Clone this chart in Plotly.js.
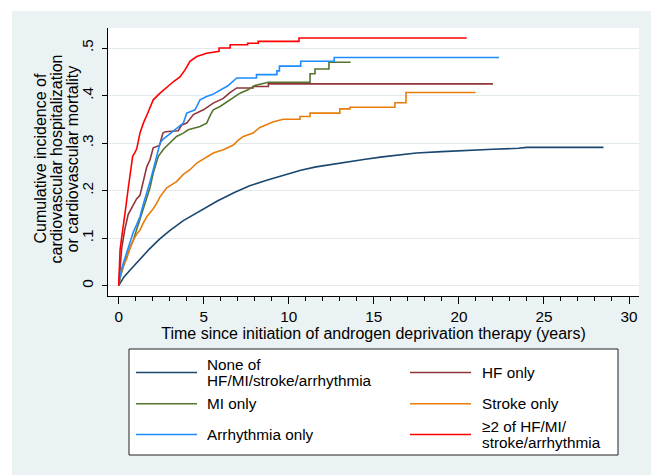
<!DOCTYPE html>
<html>
<head>
<meta charset="utf-8">
<script src="https://cdn.plot.ly/plotly-3.0.1.min.js"></script>
<style>
  html, body { margin: 0; padding: 0; background: #ffffff; }
  #chart { width: 651px; height: 475px; }
</style>
</head>
<body>
<div id="chart"></div>
<script>
// ---------------- data ----------------
// Each series is given as the vertices of its drawn (stepped) curve.
const seriesNames = [
  'None of\nHF/MI/stroke/arrhythmia',
  'HF only',
  'MI only',
  'Stroke only',
  'Arrhythmia only',
  '≥2 of HF/MI/\nstroke/arrhythmia'
];

// None of HF/MI/stroke/arrhythmia (years, cumulative incidence)
const noneT = [0, 0.3, 0.7, 1.2, 1.8, 2.4, 3.0, 3.8, 4.8, 5.8, 6.8, 7.7, 8.7, 9.7, 10.7, 11.6, 12.6, 13.6, 14.5, 15.5, 16.5, 17.5, 19.0, 20.5, 22.0, 23.5, 24.0, 28.5];
const noneV = [0, 0.018, 0.034, 0.054, 0.077, 0.098, 0.116, 0.137, 0.158, 0.178, 0.196, 0.210, 0.222, 0.233, 0.243, 0.250, 0.256, 0.261, 0.266, 0.271, 0.275, 0.279, 0.282, 0.285, 0.287, 0.289, 0.291, 0.291];

// HF only
const hfT = [0, 0.08, 0.18, 0.37, 0.56, 0.86, 1.06, 1.25, 1.35, 1.45, 1.55, 1.65, 1.84, 2.03, 2.4, 2.6, 2.75, 3.5, 3.7, 4.0, 4.39, 4.98, 5.56, 6.15, 6.5, 6.94, 7.9, 7.9, 8.8, 8.8, 22.0];
const hfV = [0, 0.045, 0.08, 0.12, 0.15, 0.17, 0.183, 0.19, 0.205, 0.215, 0.23, 0.25, 0.265, 0.29, 0.295, 0.321, 0.324, 0.326, 0.338, 0.342, 0.36, 0.370, 0.384, 0.394, 0.405, 0.416, 0.416, 0.419, 0.419, 0.4246, 0.4246];

// MI only
const miT = [0, 0.1, 0.27, 0.47, 0.65, 0.86, 1.05, 1.25, 1.45, 1.65, 1.84, 2.03, 2.2, 2.33, 2.63, 3.02, 3.4, 3.8, 4.09, 4.78, 5.17, 5.4, 5.56, 5.96, 6.54, 6.86, 7.13, 7.6, 8.0, 8.8, 11.25, 11.25, 11.54, 11.54, 12.36, 12.36, 13.64];
const miV = [0, 0.02, 0.040, 0.061, 0.078, 0.096, 0.118, 0.138, 0.159, 0.187, 0.206, 0.237, 0.255, 0.272, 0.287, 0.300, 0.314, 0.321, 0.328, 0.335, 0.342, 0.360, 0.370, 0.377, 0.391, 0.398, 0.405, 0.412, 0.421, 0.428, 0.428, 0.446, 0.446, 0.456, 0.456, 0.470, 0.470];

// Stroke only
const strokeT = [0, 0.1, 0.18, 0.3, 0.47, 0.65, 0.86, 1.05, 1.25, 1.45, 1.65, 2.03, 2.23, 2.43, 2.6, 2.82, 3.1, 3.4, 3.8, 4.19, 4.59, 4.98, 5.56, 6.15, 6.74, 7.0, 7.33, 7.9, 8.3, 9.1, 9.68, 10.66, 10.66, 11.25, 11.25, 13.0, 13.0, 13.6, 13.6, 16.24, 16.24, 16.89, 16.89, 20.98];
const strokeV = [0, 0.018, 0.033, 0.045, 0.057, 0.078, 0.096, 0.108, 0.117, 0.132, 0.145, 0.162, 0.173, 0.187, 0.196, 0.206, 0.212, 0.219, 0.234, 0.244, 0.258, 0.266, 0.279, 0.286, 0.296, 0.305, 0.314, 0.321, 0.333, 0.345, 0.350, 0.350, 0.356, 0.356, 0.363, 0.363, 0.372, 0.372, 0.3755, 0.3755, 0.385, 0.385, 0.4063, 0.4063];

// Arrhythmia only
const arrT = [0, 0.1, 0.27, 0.47, 0.65, 0.86, 1.05, 1.25, 1.45, 1.65, 1.85, 2.03, 2.2, 2.43, 2.6, 2.82, 3.21, 3.5, 3.8, 4.0, 4.49, 4.78, 5.17, 5.5, 5.96, 6.4, 6.94, 8.1, 8.1, 9.3, 9.3, 9.45, 9.45, 10.7, 10.7, 12.67, 12.67, 22.36];
const arrV = [0, 0.025, 0.047, 0.068, 0.09, 0.113, 0.128, 0.145, 0.172, 0.195, 0.22, 0.244, 0.27, 0.300, 0.308, 0.314, 0.324, 0.333, 0.342, 0.363, 0.370, 0.391, 0.398, 0.402, 0.412, 0.420, 0.437, 0.437, 0.444, 0.444, 0.452, 0.452, 0.462, 0.462, 0.472, 0.472, 0.480, 0.480];

// >=2 of HF/MI/stroke/arrhythmia
const multiT = [0, 0.04, 0.08, 0.15, 0.27, 0.4, 0.56, 0.7, 0.82, 0.95, 1.06, 1.25, 1.45, 1.74, 2.03, 2.43, 2.82, 3.21, 3.6, 3.9, 4.19, 4.59, 5.17, 5.9, 5.9, 6.55, 6.55, 7.58, 7.58, 8.2, 8.2, 10.6, 10.6, 20.46];
const multiV = [0, 0.04, 0.075, 0.095, 0.124, 0.16, 0.205, 0.245, 0.272, 0.280, 0.288, 0.321, 0.342, 0.366, 0.391, 0.405, 0.418, 0.429, 0.439, 0.454, 0.472, 0.482, 0.489, 0.493, 0.500, 0.500, 0.507, 0.507, 0.510, 0.510, 0.514, 0.514, 0.521, 0.521];

const xTickVals = [0, 5, 10, 15, 20, 25, 30];
const yTickVals = [0, 0.1, 0.2, 0.3, 0.4, 0.5];
const yTickText = ['0', '.1', '.2', '.3', '.4', '.5'];

const xTitle = 'Time since initiation of androgen deprivation therapy (years)';
const yTitleLines = ['Cumulative incidence of', 'cardiovascular hospitalization', 'or cardiovascular mortality'];

// ---------------- styling ----------------
const colors = ['#1a476f', '#90353b', '#55752f', '#e87d0d', '#1c8cff', '#ff0000'];
const allT = [noneT, hfT, miT, strokeT, arrT, multiT];
const allV = [noneV, hfV, miV, strokeV, arrV, multiV];

const FONT = 'Liberation Sans, Arial, Helvetica, sans-serif';
const TITLE_SIZE = 16;
const TEXT_SIZE = 15.3;

// plot area in pixels
const L = 108, R = 639, T = 28, B = 296;
const W = 651, H = 475;
const px = p => (p - L) / (R - L);
const py = p => (B - p) / (B - T);

const traces = seriesNames.map((name, i) => ({
  type: 'scatter',
  mode: 'lines',
  name: name.replace('\n', ' '),
  x: allT[i],
  y: allV[i],
  line: { color: colors[i], width: 1.6, shape: 'linear' },
  showlegend: false,
  hoverinfo: 'skip'
}));

const shapes = [];
const annotations = [];

// white page strips around the light graph region
shapes.push({ type: 'rect', xref: 'paper', yref: 'paper', layer: 'below',
  x0: px(0), x1: px(12), y0: py(H), y1: py(0), fillcolor: '#ffffff', line: { width: 0 } });
shapes.push({ type: 'rect', xref: 'paper', yref: 'paper', layer: 'below',
  x0: px(0), x1: px(W), y0: py(11), y1: py(0), fillcolor: '#ffffff', line: { width: 0 } });

// legend box
shapes.push({ type: 'rect', xref: 'paper', yref: 'paper', layer: 'above',
  x0: px(129), x1: px(618), y0: py(455), y1: py(349), fillcolor: '#ffffff',
  line: { color: '#222222', width: 1 } });

const colLine = [[136, 197], [410, 471]];
const colText = [206, 481];
const rowY = [372.5, 403.8, 434.5];
const lineGap = 15.5;
seriesNames.forEach((name, i) => {
  const c = i % 2, r = Math.floor(i / 2);
  shapes.push({ type: 'line', xref: 'paper', yref: 'paper', layer: 'above',
    x0: px(colLine[c][0]), x1: px(colLine[c][1]), y0: py(rowY[r]), y1: py(rowY[r]),
    line: { color: colors[i], width: 1.6 } });
  const parts = name.split('\n');
  parts.forEach((t, k) => {
    const yc = rowY[r] + (k - (parts.length - 1) / 2) * lineGap;
    annotations.push({ xref: 'paper', yref: 'paper', x: px(colText[c]), y: py(yc),
      xanchor: 'left', yanchor: 'middle', showarrow: false, text: t,
      font: { family: FONT, size: TEXT_SIZE, color: '#000' }, borderpad: 0 });
  });
});

// y axis title, three lines
const yTitleX = [39.5, 55.5, 71.5];
yTitleLines.forEach((t, k) => {
  annotations.push({ xref: 'paper', yref: 'paper', x: px(yTitleX[k]), y: py(159),
    xanchor: 'center', yanchor: 'middle', textangle: -90, showarrow: false, text: t,
    font: { family: FONT, size: TITLE_SIZE, color: '#000' }, borderpad: 0 });
});

const layout = {
  width: W, height: H,
  margin: { l: L, r: W - R, t: T, b: H - B, pad: 0 },
  paper_bgcolor: '#eaf2f3',
  plot_bgcolor: '#ffffff',
  font: { family: FONT, size: TEXT_SIZE, color: '#000' },
  showlegend: false,
  xaxis: {
    range: [-0.629, 30.588],
    tickmode: 'array', tickvals: xTickVals,
    ticks: 'outside', ticklen: 7, tickwidth: 1, tickcolor: '#000',
    showline: true, linecolor: '#000', linewidth: 1,
    showgrid: false, zeroline: false,
    tickfont: { family: FONT, size: TEXT_SIZE, color: '#000' },
    minor: { dtick: 1, tick0: 0, ticks: 'outside', ticklen: 4, tickwidth: 1, tickcolor: '#000', showgrid: false },
    title: { text: xTitle, font: { family: FONT, size: TITLE_SIZE, color: '#000' }, standoff: 0 },
    automargin: false
  },
  yaxis: {
    range: [-0.0217, 0.5421],
    tickmode: 'array', tickvals: yTickVals, ticktext: yTickText,
    tickangle: -90,
    ticks: 'outside', ticklen: 5, tickwidth: 1, tickcolor: '#000',
    ticklabelstandoff: 3,
    showline: true, linecolor: '#000', linewidth: 1,
    showgrid: true, gridcolor: '#e3eaed', gridwidth: 1,
    zeroline: false,
    tickfont: { family: FONT, size: TEXT_SIZE, color: '#000' },
    automargin: false
  },
  shapes: shapes,
  annotations: annotations
};

Plotly.newPlot('chart', traces, layout, { displayModeBar: false, staticPlot: true });
</script>
</body>
</html>
